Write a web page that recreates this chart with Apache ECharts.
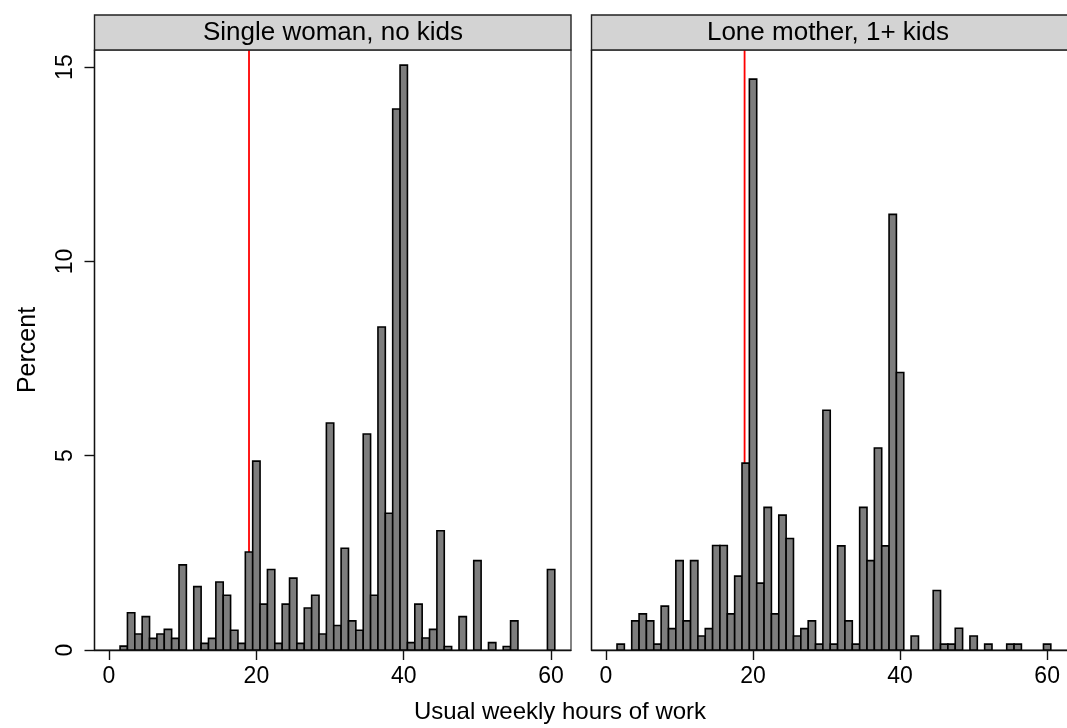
<!DOCTYPE html>
<html>
<head>
<meta charset="utf-8">
<script src="https://cdn.jsdelivr.net/npm/echarts@6/dist/echarts.min.js"></script>
<style>
html,body{margin:0;padding:0;background:#fff;}
#chart{width:1067px;height:728px;}
</style>
</head>
<body>
<div id="chart"></div>
<script>
const panelTitles = ["Single woman, no kids", "Lone mother, 1+ kids"];
const xTicks = [0, 20, 40, 60];
const yTicks = [0, 5, 10, 15];
const xAxisTitle = "Usual weekly hours of work";
const yAxisTitle = "Percent";

const singleHours = [2,3,4,5,6,7,8,9,10,12,13,14,15,16,17,18,19,20,21,22,23,24,25,26,27,28,29,30,31,32,33,34,35,36,37,38,39,40,41,42,43,44,45,46,48,50,52,54,55,60];
const singlePct   = [0.1,0.96,0.41,0.86,0.3,0.41,0.53,0.3,2.19,1.63,0.17,0.3,1.75,1.41,0.51,0.17,2.52,4.86,1.18,2.07,0.17,1.18,1.85,0.17,1.08,1.41,0.41,5.84,0.63,2.62,0.75,0.51,5.56,1.41,8.31,3.52,13.92,15.05,0.19,1.18,0.31,0.53,3.07,0.09,0.86,2.3,0.19,0.09,0.75,2.07];

const loneHours = [2,4,5,6,7,8,9,10,11,12,13,14,15,16,17,18,19,20,21,22,23,24,25,26,27,28,29,30,31,32,33,34,35,36,37,38,39,40,42,45,46,47,48,50,52,55,56,60];
const lonePct   = [0.15,0.75,0.93,0.75,0.15,1.13,0.55,2.3,0.75,2.3,0.36,0.55,2.69,2.69,0.93,1.9,4.81,14.69,1.72,3.67,0.93,3.47,2.87,0.36,0.55,0.75,0.15,6.17,0.15,2.68,0.75,0.15,3.67,2.3,5.2,2.68,11.21,7.14,0.36,1.53,0.15,0.15,0.56,0.36,0.15,0.15,0.15,0.15];

const refLines = [19, 18.85];

const X_MIN = -1.97, X_MAX = 62.7, Y_MIN = 0, Y_MAX = 15.44;
const FONT = "'Liberation Sans', Arial, Helvetica, sans-serif";

const chart = echarts.init(document.getElementById('chart'), null, {renderer: 'canvas'});

const grids = [
  {left: 94.5, top: 50, width: 476.5, height: 600},
  {left: 591.5, top: 50, width: 476.5, height: 600}
];

function zip(h, v) { return h.map((x, i) => [x, v[i]]); }
const panelData = [zip(singleHours, singlePct), zip(loneHours, lonePct)];

function renderBar(params, api) {
  const x = api.value(0), y = api.value(1);
  const p0 = api.coord([x - 0.5, y]);
  const p1 = api.coord([x + 0.5, 0]);
  return {
    type: 'rect',
    shape: {x: p0[0], y: p0[1], width: p1[0] - p0[0], height: p1[1] - p0[1]},
    style: {fill: '#7d7d7d', stroke: '#000', lineWidth: 1.6}
  };
}

const xAxes = grids.map((g, i) => ({
  type: 'value', gridIndex: i, min: X_MIN, max: X_MAX,
  axisLine: {show: true, onZero: false, lineStyle: {color: '#111', width: 1.4}},
  axisTick: {show: true, customValues: xTicks, length: 10, lineStyle: {color: '#111', width: 1.4}},
  axisLabel: {show: true, customValues: xTicks, margin: 15, fontSize: 23, color: '#000', fontFamily: FONT,
              formatter: v => String(v)},
  splitLine: {show: false}
}));

const yAxes = grids.map((g, i) => ({
  type: 'value', gridIndex: i, min: Y_MIN, max: Y_MAX,
  name: i === 0 ? yAxisTitle : '',
  nameLocation: 'middle', nameRotate: 90, nameGap: 54,
  nameTextStyle: {fontSize: 25, color: '#000', fontFamily: FONT},
  axisLine: {show: true, onZero: false, lineStyle: {color: '#111', width: 1.4}},
  axisTick: {show: i === 0, customValues: yTicks, length: 10, lineStyle: {color: '#111', width: 1.4}},
  axisLabel: {show: i === 0, customValues: yTicks, rotate: 90, margin: 17, fontSize: 23, color: '#000', fontFamily: FONT,
              formatter: v => String(v)},
  splitLine: {show: false}
}));

const series = [];
grids.forEach((g, i) => {
  series.push({
    type: 'line', xAxisIndex: i, yAxisIndex: i, z: 1,
    data: [[refLines[i], Y_MIN], [refLines[i], Y_MAX]],
    symbol: 'none', lineStyle: {color: '#ff0000', width: 1.8}, silent: true, animation: false
  });
  series.push({
    type: 'custom', xAxisIndex: i, yAxisIndex: i, z: 3,
    renderItem: renderBar, data: panelData[i], clip: true, animation: false
  });
});

const graphics = [];
grids.forEach((g, i) => {
  graphics.push({
    type: 'rect', z: 10,
    shape: {x: g.left, y: 15, width: g.width, height: 35},
    style: {fill: '#d3d3d3', stroke: '#222', lineWidth: 1.4}
  });
  graphics.push({
    type: 'text', z: 11,
    x: i === 0 ? 333 : 828, y: 32.5,
    style: {text: panelTitles[i], font: '26px ' + FONT, fill: '#000', textAlign: 'center', textVerticalAlign: 'middle'}
  });
});
graphics.push({
  type: 'text', z: 11, x: 560, y: 712,
  style: {text: xAxisTitle, font: '24px ' + FONT, fill: '#000', textAlign: 'center', textVerticalAlign: 'middle'}
});
grids.forEach((g) => {
  graphics.push({
    type: 'rect', z: 0, silent: true,
    shape: {x: g.left, y: g.top, width: g.width, height: g.height},
    style: {fill: 'none', stroke: '#333', lineWidth: 1.2}
  });
});

chart.setOption({
  animation: false,
  backgroundColor: '#ffffff',
  grid: grids.map(g => Object.assign({containLabel: false}, g)),
  xAxis: xAxes,
  yAxis: yAxes,
  series: series,
  graphic: graphics
});
</script>
</body>
</html>
